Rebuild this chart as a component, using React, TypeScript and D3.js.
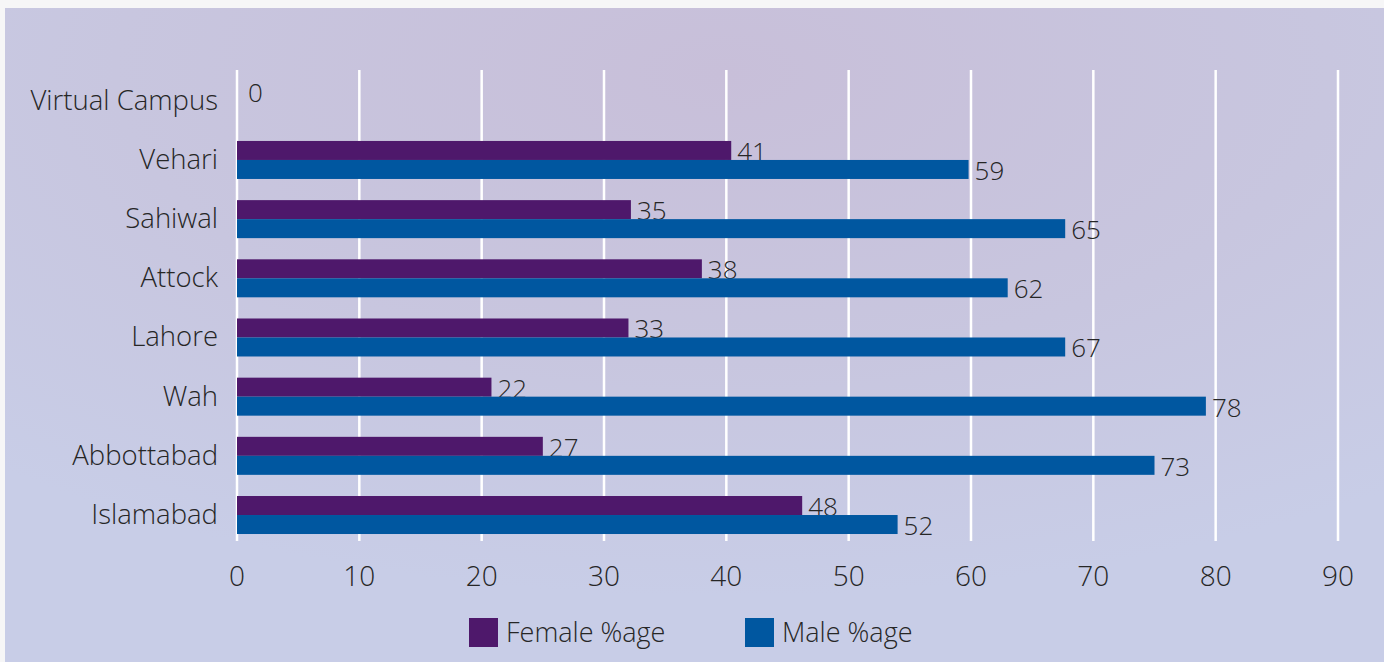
import React from "react";
import * as d3 from "d3";

const categories = ["Virtual Campus", "Vehari", "Sahiwal", "Attock", "Lahore", "Wah", "Abbottabad", "Islamabad"];
const femaleValues = [0, 40.4, 32.2, 38.0, 32.0, 20.8, 25.0, 46.2];
const maleValues = [0, 59.8, 67.7, 63.0, 67.7, 79.2, 75.0, 54.0];
const femaleLabels = ["0", "41", "35", "38", "33", "22", "27", "48"];
const maleLabels = ["", "59", "65", "62", "67", "78", "73", "52"];
const xTicks = [0, 10, 20, 30, 40, 50, 60, 70, 80, 90];
const seriesNames = ["Female %age", "Male %age"];
const seriesColors = ["#4e186b", "#0057a0"];

const W = 1384;
const H = 662;
const FONT = "'Open Sans', 'Noto Sans', sans-serif";
const TEXT = "#262626";
const WEIGHT = 340;

export default function App() {
  const x = d3.scaleLinear().domain([0, 90]).range([237, 1338]);
  const y = d3.scaleBand<string>().domain(categories).range([71.2, 544.6]).padding(0);
  const barH = 19;
  const sub = d3.scaleBand<string>().domain(seriesNames).range([0, barH * 2]).padding(0);
  const gridTop = 70;
  const gridBottom = 541;

  const series = [
    { name: seriesNames[0], values: femaleValues, labels: femaleLabels, color: seriesColors[0] },
    { name: seriesNames[1], values: maleValues, labels: maleLabels, color: seriesColors[1] },
  ];

  const legendX = d3.scaleOrdinal<string, number>().domain(seriesNames).range([469, 745]);

  return (
    <div style={{ position: "absolute", left: 0, top: 0, width: W, height: H }}>
      <svg width={W} height={H} style={{ display: "block" }} fontFamily={FONT} fontWeight={WEIGHT}>
        <defs>
          <radialGradient id="bg" cx="0.52" cy="0.1" r="0.8">
            <stop offset="0" stopColor="#c8bfd9" />
            <stop offset="0.55" stopColor="#c8c6df" />
            <stop offset="1" stopColor="#c8cde7" />
          </radialGradient>
        </defs>
        <rect x={0} y={0} width={W} height={H} fill="#f6f6f7" />
        <rect x={5} y={8} width={W - 5} height={H - 8} fill="url(#bg)" />

        {xTicks.map((t) => (
          <line key={"g" + t} x1={x(t)} x2={x(t)} y1={gridTop} y2={gridBottom} stroke="#ffffff" strokeWidth={2.5} />
        ))}

        {series.map((s) =>
          categories.map((c, i) => {
            const yc = (y(c) as number) + y.bandwidth() / 2;
            const y0 = yc - barH + (sub(s.name) as number);
            return (
              <g key={s.name + c}>
                {s.values[i] > 0 && (
                  <rect x={x(0)} y={y0} width={x(s.values[i]) - x(0)} height={barH} fill={s.color} />
                )}
                {s.labels[i] !== "" && (
                  <text
                    x={x(s.values[i]) + (s.values[i] > 0 ? 6 : 11)}
                    y={y0 + barH / 2 + 1}
                    dy="0.36em"
                    fontSize={26}
                    fill={TEXT}
                  >
                    {s.labels[i]}
                  </text>
                )}
              </g>
            );
          })
        )}

        {categories.map((c) => (
          <text
            key={"c" + c}
            x={218}
            y={(y(c) as number) + y.bandwidth() / 2 - 1}
            dy="0.36em"
            textAnchor="end"
            fontSize={27.5}
            fill={TEXT}
          >
            {c}
          </text>
        ))}

        {xTicks.map((t) => (
          <text key={"t" + t} x={x(t)} y={576} dy="0.36em" textAnchor="middle" fontSize={28} fill={TEXT}>
            {t}
          </text>
        ))}

        {series.map((s) => (
          <g key={"l" + s.name}>
            <rect x={legendX(s.name)} y={618} width={29} height={29} fill={s.color} />
            <text x={legendX(s.name) + 37} y={632} dy="0.36em" fontSize={27} fill={TEXT}>
              {s.name}
            </text>
          </g>
        ))}
      </svg>
    </div>
  );
}
